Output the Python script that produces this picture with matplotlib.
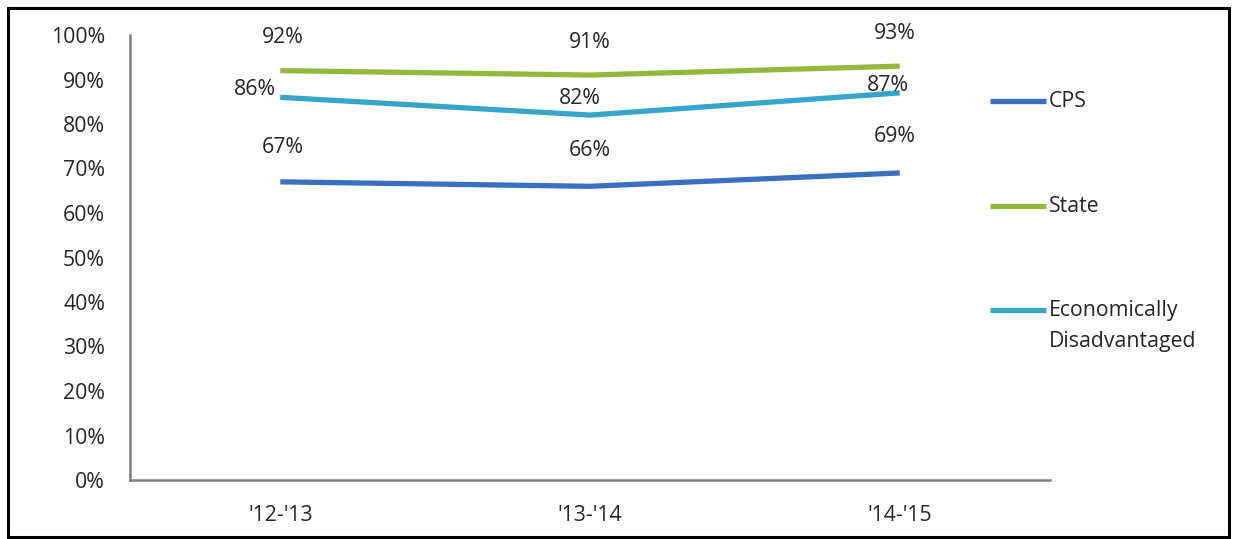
import matplotlib
matplotlib.use("Agg")
import matplotlib.pyplot as plt
from matplotlib.lines import Line2D
from matplotlib.patches import Rectangle
from matplotlib.ticker import PercentFormatter

plt.rcParams['font.family'] = ['Open Sans', 'DejaVu Sans']

years = ["'12-'13", "'13-'14", "'14-'15"]
cps = [67, 66, 69]
state = [92, 91, 93]
econ = [86, 82, 87]

series_names = ["CPS", "State", "Economically\nDisadvantaged"]
colors = ["#3b6fc2", "#94b83c", "#35a6c8"]

W, H = 1236, 539
FS = 15.3
TXT = "#262626"
fig = plt.figure(figsize=(W / 100, H / 100), dpi=100)
fig.patch.set_facecolor("white")

# outer frame
fig.add_artist(Rectangle((8 / W, 1 - 537 / H), (1229 - 8) / W, (537 - 8) / H,
                         transform=fig.transFigure, fill=False,
                         edgecolor="black", linewidth=2.2))

ax = fig.add_axes([130 / W, (H - 480) / H, (1050 - 130) / W, (480 - 35) / H])
x = list(range(len(years)))

lw = 3.8
ax.plot(x, cps, color=colors[0], lw=lw, solid_capstyle="butt")
ax.plot(x, state, color=colors[1], lw=lw, solid_capstyle="butt")
ax.plot(x, econ, color=colors[2], lw=lw, solid_capstyle="butt")

# value labels (offsets in pixels from each point)
label_offsets = {
    "cps": [(3, 34), (0, 36), (-5, 36)],
    "state": [(3, 33), (0, 33), (-5, 33)],
    "econ": [(-25, 8), (-10, 17), (-12, 7)],
}
for key, vals in (("cps", cps), ("state", state), ("econ", econ)):
    for i, v in enumerate(vals):
        dx, dy = label_offsets[key][i]
        ax.annotate(f"{v}%", (i, v), xytext=(dx, dy), textcoords="offset pixels",
                    ha="center", va="center", fontsize=FS, color=TXT)

ax.set_xlim(-0.485, 2.485)
ax.set_ylim(0, 100)
ax.set_yticks(range(0, 101, 10))
ax.yaxis.set_major_formatter(PercentFormatter(decimals=0))
ax.set_xticks(x)
ax.set_xticklabels(years)
ax.tick_params(axis="y", length=0, pad=18, labelsize=FS, labelcolor=TXT)
ax.tick_params(axis="x", length=0, pad=18, labelsize=FS, labelcolor=TXT)

for s in ("top", "right"):
    ax.spines[s].set_visible(False)
for s in ("left", "bottom"):
    ax.spines[s].set_color("#7f7f7f")
    ax.spines[s].set_linewidth(1.8)

# legend drawn at the right of the plot
legend_rows = [101, 206, 310]
for name, c, yp in zip(series_names, colors, legend_rows):
    fy = 1 - yp / H
    fig.add_artist(Line2D([990 / W, 1046 / W], [fy, fy], transform=fig.transFigure,
                          color=c, lw=lw, solid_capstyle="butt"))
    fig.text(1049 / W, 1 - (yp - 10) / H, name, transform=fig.transFigure,
             ha="left", va="top", fontsize=FS, color=TXT, linespacing=1.6)

fig.savefig("out.png", dpi=100, facecolor="white")
